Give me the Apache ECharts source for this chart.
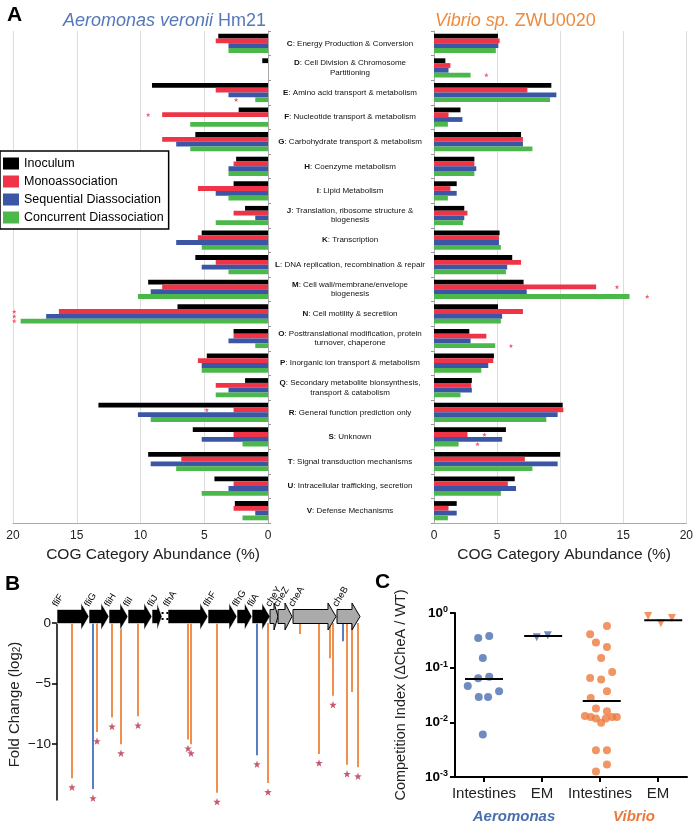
<!DOCTYPE html>
<html><head><meta charset="utf-8">
<script src="https://cdn.jsdelivr.net/npm/echarts@6/dist/echarts.min.js"></script>
<style>html,body{margin:0;padding:0;background:#fff}#c{width:696px;height:829px}</style>
</head><body><div id="c"></div>
<script>
// ---------- Panel A data ----------
const cogLetters = ['C','D','E','F','G','H','I','J','K','L','M','N','O','P','Q','R','S','T','U','V'];
const cogNames = [
  'Energy Production & Conversion',
  'Cell Division & Chromosome\nPartitioning',
  'Amino acid transport & metabolism',
  'Nucleotide transport & metabolism',
  'Carbohydrate transport & metabolism',
  'Coenzyme metabolism',
  'Lipid Metabolism',
  'Translation, ribosome structure &\nbiogenesis',
  'Transcription',
  'DNA replication, recombination & repair',
  'Cell wall/membrane/envelope\nbiogenesis',
  'Cell motility & secretiion',
  'Posttranslational modification, protein\nturnover, chaperone',
  'Inorganic ion transport & metabolism',
  'Secondary metabolite bionsynthesis,\ntransport & catabolism',
  'General function prediction only',
  'Unknown',
  'Signal transduction mechanisms',
  'Intracellular trafficking, secretion',
  'Defense Mechanisms'
];
const seriesNames = ['Inoculum','Monoassociation','Sequential Diassociation','Concurrent Diassociation'];

const aeroInoculum = [3.9,0.45,9.1,2.3,5.7,2.5,2.7,1.8,5.2,5.7,9.4,7.1,2.7,4.8,1.8,13.3,5.9,9.4,4.2,2.6];
const aeroMono     = [4.1,0,4.1,8.3,8.3,2.7,5.5,2.7,5.5,4.1,8.3,16.4,2.7,5.5,4.1,2.7,2.7,6.8,2.7,2.7];
const aeroSeq      = [3.1,0,3.1,0,7.2,3.1,4.1,1.0,7.2,5.2,9.2,17.4,3.1,5.2,3.1,10.2,5.2,9.2,3.1,1.0];
const aeroConc     = [3.1,0,1.0,6.1,6.1,3.1,3.1,4.1,5.2,3.1,10.2,19.4,1.0,5.2,4.1,9.2,2.0,7.2,5.2,2.0];

const vibInoculum = [5.07,0.9,9.3,2.1,6.9,3.2,1.8,2.4,5.2,6.2,7.1,5.07,2.8,4.75,3.0,10.2,5.7,10.0,6.4,1.8];
const vibMono     = [5.2,1.3,7.4,1.15,7.05,3.2,1.3,2.65,5.15,6.9,12.85,7.05,4.15,4.7,2.95,10.25,2.65,7.2,5.85,1.15];
const vibSeq      = [5.1,1.15,9.7,2.25,7.05,3.35,1.8,2.4,5.15,5.8,7.35,5.4,2.9,4.3,3.0,9.8,5.4,9.8,6.5,1.8];
const vibConc     = [4.9,2.9,9.2,1.1,7.8,3.2,1.1,2.3,5.3,5.7,15.5,5.3,4.85,3.75,2.1,8.9,1.95,7.8,5.3,1.1];

// significance stars: [category, value, bar row (0=Inoculum..3=Concurrent)]
const aeroStars = [['E',2.5,3],['F',9.4,1],['N',19.9,1],['N',19.9,2],['N',19.9,3],['R',4.8,1]];
const vibStars  = [['D',4.15,3],['M',14.5,1],['M',16.9,3],['O',6.1,3],['S',4.0,1],['S',3.45,3]];

// ---------- Panel B data ----------
const geneNames = ['fliF','fliG','fliH','fliI','fliJ','flhA','flhF','flhG','fliA','cheY','cheZ','cheA','cheB'];
const geneStart = [0,32,52,71,95,111,151,180,195,213,221,236,280];
const geneEnd   = [32,52,71,95,105,151,180,195,213,221,235,279,303];
const breakPos  = [108];
const probeX      = [15,36,40,55,64,81,131,134,160,200,211,243,262,273,276,286,290,295,301];
const probeFC     = [-12.8,-13.7,-9.0,-7.8,-10.0,-7.7,-9.6,-10.0,-14.0,-10.9,-13.2,-0.9,-10.8,-2.9,-6.0,-1.5,-11.7,-5.7,-11.9];
const probeStrain = ['V','A','V','V','V','V','V','V','V','A','V','V','V','V','V','A','V','V','V'];
const probeSig    = [1,1,1,1,1,1,1,1,1,1,1,0,1,0,1,0,1,0,1];
const foldTicks = [0,-5,-10];

// ---------- Panel C data ----------
const ciCategories = ['Intestines','EM','Intestines','EM'];
const aeroIntX = [0.40,0.59,0.48,0.40,0.59,0.22,0.76,0.41,0.57,0.48];
const aeroIntY = [0.35,0.38,0.15,0.064,0.068,0.046,0.037,0.029,0.029,0.006];
const aeroEmX = [1.41,1.60];
const aeroEmY = [0.36,0.39];
const vibIntX = [2.33,2.62,2.43,2.62,2.52,2.71,2.33,2.52,2.62,2.34,2.43,2.62,2.24,2.34,2.43,2.52,2.60,2.71,2.79,2.43,2.62,2.62,2.43];
const vibIntY = [0.41,0.58,0.29,0.24,0.15,0.083,0.065,0.061,0.037,0.028,0.018,0.016,0.013,0.0125,0.0117,0.0098,0.0117,0.0125,0.0125,0.0031,0.0031,0.0017,0.00126];
const vibEmX = [3.33,3.55,3.74];
const vibEmY = [0.88,0.65,0.81];
const medianX = [0.50,1.52,2.53,3.59];
const medianY = [0.062,0.38,0.0245,0.74];

// ---------- styles ----------
const FONT = '"Liberation Sans", Arial, Helvetica, sans-serif';
const barColors = ['#000000','#ee3446','#3b56a5','#4cb74a'];
const AERO = '#5577bb', VIB = '#ee8a3c';
const ptBlue = '#4a6fb0', ptOrange = '#ec7a3c';
const lineOrange = '#f0904f', lineBlue = '#5a7ec2';
const STAR = 'path://M0,-10L2.35,-3.24L9.51,-3.09L3.8,1.24L5.88,8.09L0,4L-5.88,8.09L-3.8,1.24L-9.51,-3.09L-2.35,-3.24Z';

const chart = echarts.init(document.getElementById('c'));

const series = [];
const aeroData = [aeroInoculum, aeroMono, aeroSeq, aeroConc];
const vibData = [vibInoculum, vibMono, vibSeq, vibConc];
seriesNames.forEach((n,i)=>{
  series.push({type:'bar', name:n, xAxisIndex:0, yAxisIndex:0, data:aeroData[i],
    itemStyle:{color:barColors[i]}, barGap:'0%', barCategoryGap:'22%', silent:true});
});
seriesNames.forEach((n,i)=>{
  series.push({type:'bar', name:n, xAxisIndex:1, yAxisIndex:1, data:vibData[i],
    itemStyle:{color:barColors[i]}, barGap:'0%', barCategoryGap:'22%', silent:true});
});
function starItems(list){
  return list.map(s=>({value:[s[1], s[0]], symbolOffset:[0,(s[2]-1.5)*4.8]}));
}
series.push({type:'scatter', xAxisIndex:0, yAxisIndex:0, symbol:STAR, symbolSize:4.5,
  itemStyle:{color:'#e8334a'}, data:starItems(aeroStars), silent:true, z:5});
series.push({type:'scatter', xAxisIndex:1, yAxisIndex:1, symbol:STAR, symbolSize:4.5,
  itemStyle:{color:'#e8334a'}, data:starItems(vibStars), silent:true, z:5});

// Panel B: probe lines
series.push({type:'custom', xAxisIndex:2, yAxisIndex:2, silent:true, z:3,
  data: probeX.map((x,i)=>[x, probeFC[i]]),
  renderItem:(params, api)=>{
    const i = params.dataIndex;
    const p0 = api.coord([api.value(0), 0]);
    const p1 = api.coord([api.value(0), api.value(1)]);
    return {type:'line', shape:{x1:p0[0], y1:p0[1], x2:p1[0], y2:p1[1]},
      style:{stroke: probeStrain[i]==='A' ? lineBlue : lineOrange, lineWidth:2}};
  }});
// Panel B: stars
series.push({type:'scatter', xAxisIndex:2, yAxisIndex:2, symbol:STAR, symbolSize:7.5, silent:true, z:4,
  symbolOffset:[0,9], itemStyle:{color:'#b7314a'},
  data: probeX.map((x,i)=>[x, probeFC[i], probeSig[i]]).filter(d=>d[2]===1).map(d=>[d[0], d[1]])});
// Panel B: gene arrows
series.push({type:'custom', xAxisIndex:2, yAxisIndex:2, silent:true, z:6, clip:false,
  data: geneStart.map((s,i)=>[s, geneEnd[i]]),
  encode:{x:[0,1]},
  renderItem:(params, api)=>{
    const i = params.dataIndex;
    const a = api.coord([api.value(0), 0]);
    const b = api.coord([api.value(1), 0]);
    const cy = a[1] - 6.5, bh = 7, hh = 13.5;
    const hl = Math.min(8, (b[0]-a[0])*0.5);
    const che = geneNames[i].indexOf('che') === 0;
    const pts = [[a[0],cy-bh],[b[0]-hl,cy-bh],[b[0]-hl,cy-hh],[b[0],cy],[b[0]-hl,cy+hh],[b[0]-hl,cy+bh],[a[0],cy+bh]];
    return {type:'group', children:[
      {type:'polygon', shape:{points:pts}, style:{fill: che ? '#aaaaaa' : '#000', stroke: che ? '#000' : '#fff', lineWidth: che ? 1 : 0.6}},
      {type:'text', x:a[0]+2, y:cy-bh-1, rotation:58*Math.PI/180,
        style:{text:geneNames[i], fontSize:9.5, fontFamily:FONT, fill:'#000', align:'left', verticalAlign:'bottom'}}
    ]};
  }});
series.push({type:'custom', xAxisIndex:2, yAxisIndex:2, silent:true, z:7, clip:false,
  data: breakPos.map(x=>[x]),
  renderItem:(params, api)=>{
    const p = api.coord([api.value(0), 0]);
    return {type:'text', x:p[0], y:p[1]-6.5, style:{text:'::', fontSize:14, fontWeight:'bold', fontFamily:FONT, fill:'#000', align:'center', verticalAlign:'middle'}};
  }});

// Panel C
series.push({type:'scatter', xAxisIndex:4, yAxisIndex:3, symbol:'circle', symbolSize:8, silent:true,
  itemStyle:{color:ptBlue}, data: aeroIntX.map((x,i)=>[x, aeroIntY[i]])});
series.push({type:'scatter', xAxisIndex:4, yAxisIndex:3, symbol:'triangle', symbolRotate:180, symbolSize:8, silent:true,
  itemStyle:{color:ptBlue}, data: aeroEmX.map((x,i)=>[x, aeroEmY[i]])});
series.push({type:'scatter', xAxisIndex:4, yAxisIndex:3, symbol:'circle', symbolSize:8, silent:true,
  itemStyle:{color:ptOrange}, data: vibIntX.map((x,i)=>[x, vibIntY[i]])});
series.push({type:'scatter', xAxisIndex:4, yAxisIndex:3, symbol:'triangle', symbolRotate:180, symbolSize:8, silent:true,
  itemStyle:{color:ptOrange}, data: vibEmX.map((x,i)=>[x, vibEmY[i]])});
series.push({type:'custom', xAxisIndex:4, yAxisIndex:3, silent:true, z:5,
  data: medianX.map((x,i)=>[x, medianY[i]]),
  renderItem:(params, api)=>{
    const p = api.coord([api.value(0), api.value(1)]);
    return {type:'line', shape:{x1:p[0]-19, y1:p[1], x2:p[0]+19, y2:p[1]}, style:{stroke:'#000', lineWidth:2}};
  }});

const catLabelRich = {b:{fontWeight:'bold', fontSize:8, fontFamily:FONT, color:'#111', lineHeight:9.5}};

const option = {
  animation:false,
  backgroundColor:'#fff',
  textStyle:{fontFamily:FONT},
  title:[
    {text:'{i|Aeromonas veronii} Hm21', left:58, top:7,
      textStyle:{fontSize:18, fontWeight:'normal', color:AERO, fontFamily:FONT,
        rich:{i:{fontStyle:'italic', fontSize:18, color:AERO, fontFamily:FONT}}}},
    {text:'{i|Vibrio sp.} ZWU0020', left:430, top:7,
      textStyle:{fontSize:18, fontWeight:'normal', color:VIB, fontFamily:FONT,
        rich:{i:{fontStyle:'italic', fontSize:18, color:VIB, fontFamily:FONT}}}}
  ],
  legend:{orient:'vertical', left:0, top:151, data:seriesNames, icon:'rect',
    itemWidth:16, itemHeight:12, itemGap:5, padding:[6,5,5,3],
    borderColor:'#000', borderWidth:1.5, backgroundColor:'#fff',
    textStyle:{fontSize:12.5, color:'#000', fontFamily:FONT}, selectedMode:false},
  grid:[
    {left:13, top:31, width:255, height:492},
    {left:434, top:31, width:254, height:492},
    {left:57, top:623, width:303, height:177},
    {left:455, top:613, width:232, height:164}
  ],
  xAxis:[
    {gridIndex:0, type:'value', inverse:true, min:0, max:20, interval:5,
      axisLine:{show:true, lineStyle:{color:'#aaa'}}, axisTick:{show:false},
      splitLine:{show:true, lineStyle:{color:'#ddd'}},
      axisLabel:{fontSize:12, color:'#222', margin:7},
      name:'COG Category Abundance (%)', nameLocation:'middle', nameGap:18,
      nameTextStyle:{fontSize:15.5, color:'#222', padding:[0,0,0,25]}},
    {gridIndex:1, type:'value', min:0, max:20, interval:5,
      axisLine:{show:true, lineStyle:{color:'#aaa'}}, axisTick:{show:false},
      splitLine:{show:true, lineStyle:{color:'#ddd'}},
      axisLabel:{fontSize:12, color:'#222', margin:7},
      name:'COG Category Abundance (%)', nameLocation:'middle', nameGap:18,
      nameTextStyle:{fontSize:15.5, color:'#222', padding:[0,0,0,8]}},
    {gridIndex:2, type:'value', min:0, max:303, show:false},
    {gridIndex:3, type:'category', data:ciCategories,
      axisLine:{show:true, lineStyle:{color:'#000', width:2}},
      axisTick:{show:true, alignWithLabel:true, interval:0, length:5, lineStyle:{color:'#000', width:2}},
      axisLabel:{fontSize:15, color:'#222', margin:9, interval:0}},
    {gridIndex:3, type:'value', min:0, max:4, show:false}
  ],
  yAxis:[
    {gridIndex:0, type:'category', data:cogLetters, inverse:true, position:'right',
      axisLine:{show:true, lineStyle:{color:'#aaa'}},
      axisTick:{show:true, length:3, lineStyle:{color:'#999'}},
      axisLabel:{show:false}, splitLine:{show:false}},
    {gridIndex:1, type:'category', data:cogLetters, inverse:true, position:'left',
      axisLine:{show:true, lineStyle:{color:'#aaa'}},
      axisTick:{show:true, length:3, lineStyle:{color:'#999'}},
      axisLabel:{show:true, interval:0, margin:84, align:'center', fontSize:8, color:'#111', lineHeight:9.5,
        formatter:(v,i)=>'{b|'+v+'}: '+cogNames[i], rich:catLabelRich},
      splitLine:{show:false}},
    {gridIndex:2, type:'value', min:-14.6, max:0,
      axisLine:{show:true, lineStyle:{color:'#000', width:1.5}},
      axisTick:{show:true, length:5, lineStyle:{color:'#000', width:1.5}, customValues:foldTicks},
      axisLabel:{fontSize:13.5, color:'#111', margin:6, customValues:foldTicks,
        formatter:v=>String(v).replace('-','\u2212')},
      splitLine:{show:false},
      name:'Fold Change (log{s|2})', nameLocation:'middle', nameRotate:90, nameGap:35,
      nameTextStyle:{fontSize:15, color:'#222', padding:[0,0,0,14], rich:{s:{fontSize:10, color:'#222', verticalAlign:'bottom'}}}},
    {gridIndex:3, type:'log', logBase:10, min:0.001, max:1,
      axisLine:{show:true, lineStyle:{color:'#000', width:2}},
      axisTick:{show:true, length:5, lineStyle:{color:'#000', width:2}},
      minorTick:{show:false}, splitLine:{show:false},
      axisLabel:{margin:7, formatter:v=>'{b|10}{s|'+Math.round(Math.log10(v))+'}',
        rich:{b:{fontSize:13.5, fontWeight:'bold', color:'#000', lineHeight:16},
              s:{fontSize:9, fontWeight:'bold', color:'#000', lineHeight:10, verticalAlign:'top'}}},
      name:'Competition Index (\u0394CheA / WT)', nameLocation:'middle', nameRotate:90, nameGap:47,
      nameTextStyle:{fontSize:14.5, color:'#222'}}
  ],
  graphic:[
    {type:'text', left:7, top:5, style:{text:'A', fontSize:21, fontWeight:'bold', fontFamily:FONT, fill:'#000'}},
    {type:'text', left:5, top:574, style:{text:'B', fontSize:21, fontWeight:'bold', fontFamily:FONT, fill:'#000'}},
    {type:'text', left:375, top:572, style:{text:'C', fontSize:21, fontWeight:'bold', fontFamily:FONT, fill:'#000'}},
    {type:'text', x:514, y:817, style:{text:'Aeromonas', fontSize:15, fontWeight:'bold', fontStyle:'italic', fontFamily:FONT, fill:ptBlue, align:'center', verticalAlign:'middle'}},
    {type:'text', x:634, y:817, style:{text:'Vibrio', fontSize:15, fontWeight:'bold', fontStyle:'italic', fontFamily:FONT, fill:ptOrange, align:'center', verticalAlign:'middle'}}
  ],
  series: series
};
chart.setOption(option);
</script>
</body></html>
